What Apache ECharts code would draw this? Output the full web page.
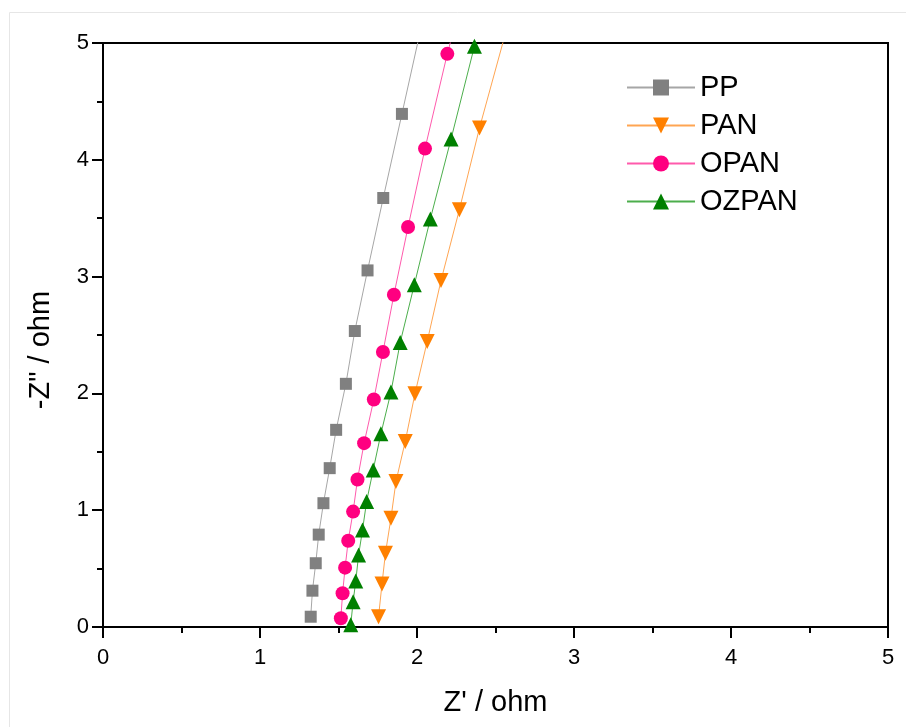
<!DOCTYPE html>
<html>
<head>
<meta charset="utf-8">
<script src="https://cdn.jsdelivr.net/npm/echarts@6/dist/echarts.min.js"></script>
<style>
html,body{margin:0;padding:0;background:#fff;}
#c{width:906px;height:727px;}
</style>
</head>
<body>
<div id="c"></div>
<script>
const seriesNames = ['PP', 'PAN', 'OPAN', 'OZPAN'];

const ppX = [1.323, 1.334, 1.355, 1.374, 1.404, 1.444, 1.485, 1.547, 1.604, 1.685, 1.785, 1.904, 2.044];
const ppY = [0.088, 0.311, 0.546, 0.791, 1.060, 1.360, 1.688, 2.082, 2.534, 3.053, 3.673, 4.393, 5.24];

const panX = [1.755, 1.777, 1.799, 1.834, 1.866, 1.925, 1.987, 2.065, 2.153, 2.270, 2.398, 2.565];
const panY = [0.088, 0.368, 0.632, 0.931, 1.245, 1.588, 1.997, 2.445, 2.967, 3.573, 4.273, 5.09];

const opanX = [1.515, 1.526, 1.542, 1.562, 1.593, 1.621, 1.663, 1.725, 1.783, 1.853, 1.943, 2.051, 2.193, 2.38];
const opanY = [0.075, 0.289, 0.508, 0.739, 0.988, 1.263, 1.574, 1.948, 2.354, 2.845, 3.425, 4.096, 4.907, 5.85];

const ozpanX = [1.578, 1.593, 1.610, 1.628, 1.653, 1.679, 1.721, 1.770, 1.834, 1.893, 1.983, 2.085, 2.217, 2.366, 2.56];
const ozpanY = [0.02, 0.216, 0.394, 0.617, 0.831, 1.074, 1.345, 1.654, 2.011, 2.436, 2.931, 3.494, 4.179, 4.973, 5.9];

const xTicks = [0, 1, 2, 3, 4, 5];
const yTicks = [0, 1, 2, 3, 4, 5];

function pairs(xs, ys) { return xs.map((x, i) => [x, ys[i]]); }

const FONT = '"Liberation Sans", Arial, sans-serif';
const chart = echarts.init(document.getElementById('c'), null, {renderer: 'canvas'});

function mkSeries(name, xs, ys, symbol, size, color, lineColor, rotate) {
  return {
    name: name,
    type: 'line',
    data: pairs(xs, ys),
    symbol: symbol,
    symbolSize: size,
    symbolRotate: rotate || 0,
    clip: true,
    showAllSymbol: true,
    itemStyle: {color: color},
    lineStyle: {color: lineColor, width: 1},
    emphasis: {disabled: true},
    animation: false
  };
}

const axisCommon = {
  type: 'value',
  min: 0, max: 5, interval: 1,
  axisLine: {show: true, onZero: false, lineStyle: {color: '#000', width: 2}},
  axisTick: {show: true, inside: false, length: 11, lineStyle: {color: '#000', width: 2}},
  minorTick: {show: true, splitNumber: 2, length: 6, lineStyle: {color: '#000', width: 2}},
  splitLine: {show: false},
  axisLabel: {color: '#000', fontSize: 22, fontFamily: FONT,
    formatter: v => String(v)}
};

chart.setOption({
  backgroundColor: '#fff',
  animation: false,
  graphic: [
    {type: 'line', shape: {x1: 9.5, y1: 12.5, x2: 906, y2: 12.5}, style: {stroke: '#e6e6e6', lineWidth: 1}, silent: true},
    {type: 'line', shape: {x1: 9.5, y1: 12.5, x2: 9.5, y2: 727}, style: {stroke: '#e6e6e6', lineWidth: 1}, silent: true}
  ],
  grid: {left: 103, right: 18, top: 43, bottom: 100, show: true, borderColor: '#000', borderWidth: 2, containLabel: false},
  legend: {
    orient: 'vertical',
    left: 621, top: 68,
    itemWidth: 68, itemHeight: 20, itemGap: 9,
    textStyle: {fontSize: 29, fontFamily: FONT, color: '#000', lineHeight: 28, padding: [0, 0, 0, 0]},
    data: seriesNames
  },
  xAxis: Object.assign({}, axisCommon, {
    name: "Z' / ohm",
    nameLocation: 'middle',
    nameGap: 61,
    nameTextStyle: {fontSize: 29, fontFamily: FONT, color: '#000'},
    axisLabel: Object.assign({}, axisCommon.axisLabel, {margin: 20})
  }),
  yAxis: Object.assign({}, axisCommon, {
    name: '-Z" / ohm',
    nameLocation: 'middle',
    nameGap: 48,
    nameRotate: 90,
    nameTextStyle: {fontSize: 29, fontFamily: FONT, color: '#000', padding: [0, 30, 0, 0]},
    axisLabel: Object.assign({}, axisCommon.axisLabel, {margin: 14})
  }),
  series: [
    mkSeries('PP', ppX, ppY, 'rect', 12, '#808080', '#a6a6a6'),
    mkSeries('PAN', panX, panY, 'triangle', 15, '#ff8000', '#ffa552', 180),
    mkSeries('OPAN', opanX, opanY, 'circle', 14, '#ff0080', '#ff5aac'),
    mkSeries('OZPAN', ozpanX, ozpanY, 'triangle', 15, '#008000', '#4cae4c')
  ]
});
</script>
</body>
</html>
